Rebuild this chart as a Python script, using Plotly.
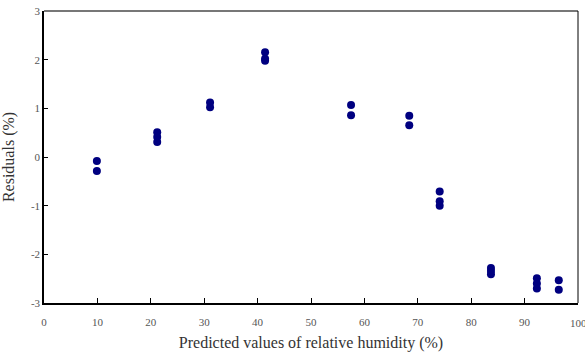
import plotly.graph_objects as go

# Predicted relative humidity (%) and residuals (%)
predicted = [9.9, 9.9,
             21.2, 21.2, 21.2,
             31.1, 31.1,
             41.4, 41.4, 41.4,
             57.5, 57.5,
             68.4, 68.4,
             74.1, 74.1, 74.1,
             83.7, 83.7, 83.7,
             92.3, 92.3, 92.3,
             96.4, 96.4]
residuals = [-0.08, -0.29,
             0.51, 0.41, 0.31,
             1.12, 1.02,
             2.15, 2.02, 1.98,
             1.07, 0.86,
             0.85, 0.65,
             -0.71, -0.91, -1.0,
             -2.28, -2.34, -2.41,
             -2.49, -2.6, -2.7,
             -2.53, -2.73]

x_ticks = [0, 10, 20, 30, 40, 50, 60, 70, 80, 90]
x_last_tick = 100
y_ticks = [-3, -2, -1, 0, 1, 2, 3]
y_tick_text = ["-3", "-2", "-1", "0", "1", "2", "3"]

serif = "Liberation Serif, Times New Roman, serif"
tick_font = dict(family=serif, size=11, color="#555")

fig = go.Figure()
fig.add_trace(go.Scatter(
    x=predicted, y=residuals, mode="markers",
    marker=dict(color="#000080", size=8, line=dict(width=0)),
    showlegend=False,
))

fig.update_layout(
    width=585, height=353,
    margin=dict(l=44, r=7, t=11, b=50),
    paper_bgcolor="white", plot_bgcolor="white",
    font=dict(family=serif, color="#444"),
    xaxis=dict(
        range=[0, 100], tickvals=x_ticks, ticks="inside", ticklen=5,
        tickcolor="black", showline=True, linecolor="black", linewidth=1.5,
        showgrid=False, zeroline=False,
        ticklabelstandoff=8, automargin=False,
        tickfont=tick_font,
        title=dict(text="Predicted values of relative humidity (%)",
                   font=dict(size=16, color="#333"), standoff=10),
    ),
    yaxis=dict(
        range=[-3, 3], tickvals=y_ticks, ticktext=y_tick_text,
        ticks="inside", ticklen=4, tickcolor="black",
        showline=True, linecolor="black", linewidth=1.5,
        showgrid=False, zeroline=False, automargin=False,
        tickfont=tick_font,
        title=dict(text="Residuals (%)", font=dict(size=16, color="#333"),
                   standoff=12),
    ),
    shapes=[
        dict(type="line", xref="paper", yref="paper", x0=0, x1=1, y0=1, y1=1,
             line=dict(color="#777", width=2)),
        dict(type="line", xref="paper", yref="paper", x0=1, x1=1, y0=0, y1=1,
             line=dict(color="black", width=1)),
    ],
    annotations=[
        # last x tick label sits at the plot edge
        dict(x=x_last_tick, xref="x", y=0, yref="paper", yanchor="top",
             yshift=-12, text=str(x_last_tick), showarrow=False,
             font=tick_font, xanchor="center"),
    ],
)

fig.write_html("out.html")
